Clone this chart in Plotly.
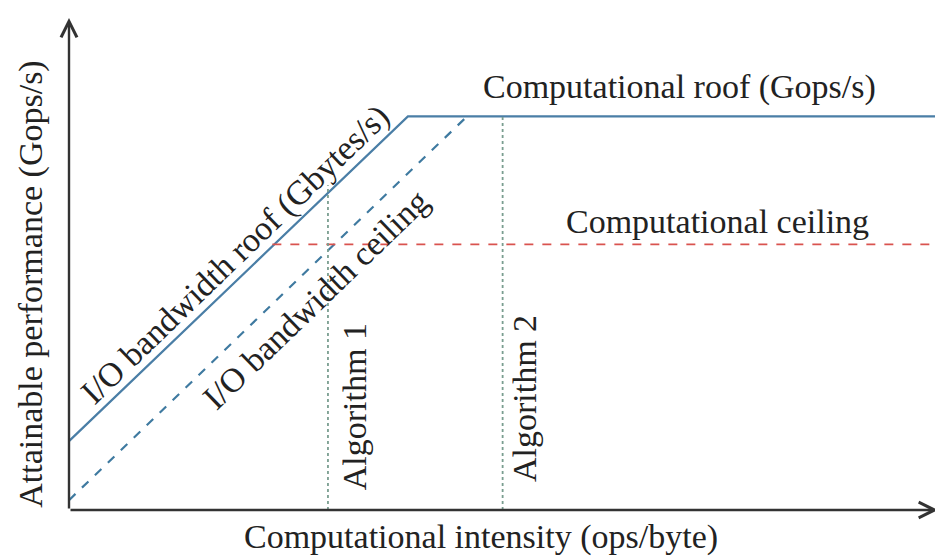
import plotly.graph_objects as go

# conceptual roofline values (arbitrary units)
roof_x = [0, 3.9, 10]
roof_y = [1.4, 8.0, 8.0]
bw_ceiling_x = [0, 4.58]
bw_ceiling_y = [0.2, 8.0]
comp_ceiling_x = [2.34, 10]
comp_ceiling_y = [5.4, 5.4]
alg_x = [2.98, 4.99]
alg_top = [6.6, 8.0]
alg_labels = ["Algorithm 1", "Algorithm 2"]

FONT = "Liberation Serif, serif"
TXT = "#222222"

fig = go.Figure()

fig.add_trace(go.Scatter(x=roof_x, y=roof_y, mode="lines",
                         line=dict(color="#4a7ea6", width=2.2), hoverinfo="skip"))
fig.add_trace(go.Scatter(x=bw_ceiling_x, y=bw_ceiling_y, mode="lines",
                         line=dict(color="#3f7aa0", width=2.2, dash="dash"), hoverinfo="skip"))
fig.add_trace(go.Scatter(x=comp_ceiling_x, y=comp_ceiling_y, mode="lines",
                         line=dict(color="#d9534f", width=1.8, dash="dash"), hoverinfo="skip"))
for xv, top in zip(alg_x, alg_top):
    fig.add_trace(go.Scatter(x=[xv, xv], y=[0, top], mode="lines",
                             line=dict(color="#7a9e90", width=1.8, dash="dot"), hoverinfo="skip"))

annotations = [
    # axes with arrow heads
    dict(x=10, y=0, ax=0, ay=0, xref="x", yref="y", axref="x", ayref="y",
         showarrow=True, arrowhead=5, arrowsize=1.3, arrowwidth=2.4, arrowcolor="#333333", text=""),
    dict(x=0, y=10, ax=0, ay=0, xref="x", yref="y", axref="x", ayref="y",
         showarrow=True, arrowhead=5, arrowsize=1.3, arrowwidth=2.4, arrowcolor="#333333", text=""),
    # axis titles (paper coords so they can sit outside the plot area)
    dict(x=0.474, y=-0.055, xref="paper", yref="paper",
         text="Computational intensity (ops/byte)"),
    dict(x=-0.043, y=0.459, xref="paper", yref="paper",
         text="Attainable performance (Gops/s)", textangle=-90),
    dict(x=7.02, y=8.6, text="Computational roof (Gops/s)"),
    dict(x=7.46, y=5.86, text="Computational ceiling"),
    dict(x=1.92, y=5.2, text="I/O bandwidth roof (Gbytes/s)", textangle=-44),
    dict(x=2.84, y=4.27, text="I/O bandwidth ceiling", textangle=-44),
    dict(x=3.28, y=2.09, text=alg_labels[0], textangle=-90),
    dict(x=5.25, y=2.26, text=alg_labels[1], textangle=-90),
]
for a in annotations:
    a.setdefault("xref", "x")
    a.setdefault("yref", "y")
    a.setdefault("showarrow", False)
    a.setdefault("xanchor", "center")
    a.setdefault("yanchor", "middle")
    a.setdefault("font", dict(family=FONT, size=34, color=TXT))

fig.update_layout(
    width=935, height=551,
    margin=dict(l=61, r=5, t=10, b=49),
    paper_bgcolor="white", plot_bgcolor="white",
    showlegend=False,
    annotations=annotations,
    xaxis=dict(range=[0, 10], visible=False, fixedrange=True),
    yaxis=dict(range=[0, 10], visible=False, fixedrange=True),
)

fig.write_html("out.html")
